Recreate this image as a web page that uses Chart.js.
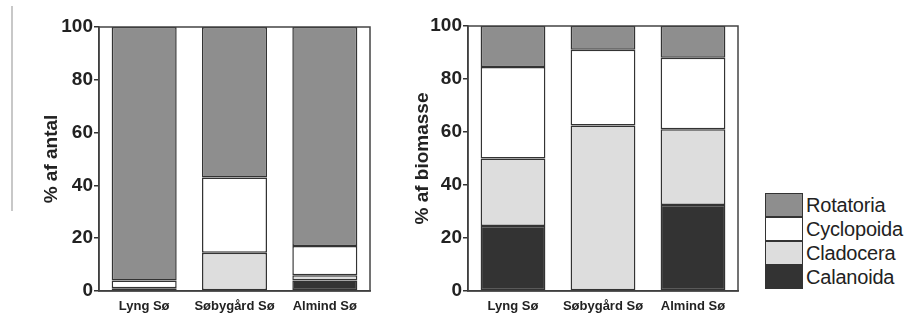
<!DOCTYPE html>
<html>
<head>
<meta charset="utf-8">
<script src="https://cdn.jsdelivr.net/npm/chart.js@4"></script>
<style>
  body { margin: 0; background: #fff; font-family: "Liberation Sans", Arial, sans-serif; }
  #wrap { position: relative; width: 916px; height: 320px; }
  canvas { position: absolute; top: 0; }
  #edge { position: absolute; left: 11px; top: 6px; width: 2px; height: 205px; background: #c8c8c8; }
  #legend { position: absolute; left: 765px; top: 193px; }
  .row { display: flex; align-items: center; height: 24px; }
  .box { width: 36px; height: 22px; border: 1px solid #333; box-sizing: content-box; }
  .row span { font-size: 20px; color: #222; margin-left: 3px; letter-spacing: -0.2px; }
</style>
</head>
<body>
<div id="wrap">
  <div id="edge"></div>
  <canvas id="antal" width="375" height="320" style="left:0"></canvas>
  <canvas id="biomasse" width="365" height="320" style="left:380px"></canvas>
  <div id="legend"></div>
</div>
<script>
const lakes = ['Lyng Sø', 'Søbygård Sø', 'Almind Sø']
const groups = ['Calanoida', 'Cladocera', 'Cyclopoida', 'Rotatoria']
const groupColors = ['#333333', '#dddddd', '#ffffff', '#8e8e8e']

// % af antal
const antalCalanoida = [1, 0, 4]
const antalCladocera = [0, 14.5, 2]
const antalCyclopoida = [3, 28.5, 11]
const antalRotatoria = [96, 57, 83]

// % af biomasse
const biomasseCalanoida = [24.5, 0, 32.5]
const biomasseCladocera = [25.5, 62.5, 28.5]
const biomasseCyclopoida = [34.5, 28.5, 27]
const biomasseRotatoria = [15.5, 9, 12]

const yTicks = [0, 20, 40, 60, 80, 100]

const frame = {
  id: 'frame',
  afterDraw(chart) {
    const a = chart.chartArea
    const c = chart.ctx
    c.save()
    c.strokeStyle = '#444'
    c.lineWidth = 1.5
    c.strokeRect(a.left, a.top, a.right - a.left, a.bottom - a.top)
    c.restore()
  }
}

function makeChart(id, series, title, pad, yWidth) {
  const datasets = series.map((values, i) => ({
    label: groups[i],
    data: values,
    backgroundColor: groupColors[i],
    borderColor: '#333',
    borderWidth: 1.5,
    borderSkipped: false,
    categoryPercentage: 1,
    barPercentage: 0.72
  }))
  return new Chart(document.getElementById(id), {
    type: 'bar',
    data: { labels: lakes, datasets: datasets },
    plugins: [frame],
    options: {
      responsive: false,
      animation: false,
      devicePixelRatio: 1,
      layout: { padding: pad },
      plugins: { legend: { display: false }, tooltip: { enabled: false } },
      scales: {
        x: {
          stacked: true,
          grid: { display: false },
          border: { color: '#333', width: 1.5 },
          ticks: {
            color: '#222',
            padding: 0,
            maxRotation: 0,
            autoSkip: false,
            font: { family: 'Liberation Sans', size: 13, weight: 'bold' }
          },
          afterFit: (s) => { s.height = 29 }
        },
        y: {
          stacked: true,
          min: 0,
          max: 100,
          afterBuildTicks: (s) => { s.ticks = yTicks.map(v => ({ value: v })) },
          grid: { drawOnChartArea: false, tickLength: 5, color: '#333', lineWidth: 1.5 },
          border: { color: '#333', width: 1.5 },
          ticks: {
            color: '#222',
            padding: 1,
            font: { family: 'Liberation Sans', size: 19, weight: 'bold' }
          },
          title: {
            display: true,
            text: title,
            color: '#222',
            padding: 4,
            font: { family: 'Liberation Sans', size: 19, weight: 'bold' }
          },
          afterFit: (s) => { s.width = yWidth }
        }
      }
    }
  })
}

makeChart('antal',
  [antalCalanoida, antalCladocera, antalCyclopoida, antalRotatoria],
  '% af antal', { left: 36, top: 27, right: 5, bottom: 0 }, 63)

makeChart('biomasse',
  [biomasseCalanoida, biomasseCladocera, biomasseCyclopoida, biomasseRotatoria],
  '% af biomasse', { left: 27, top: 26, right: 7, bottom: 0 }, 61)

// legend, top entry first
const legend = document.getElementById('legend')
for (let i = groups.length - 1; i >= 0; i--) {
  const row = document.createElement('div')
  row.className = 'row'
  row.innerHTML = '<div class="box" style="background:' + groupColors[i] + '"></div><span>' + groups[i] + '</span>'
  legend.appendChild(row)
}
</script>
</body>
</html>
